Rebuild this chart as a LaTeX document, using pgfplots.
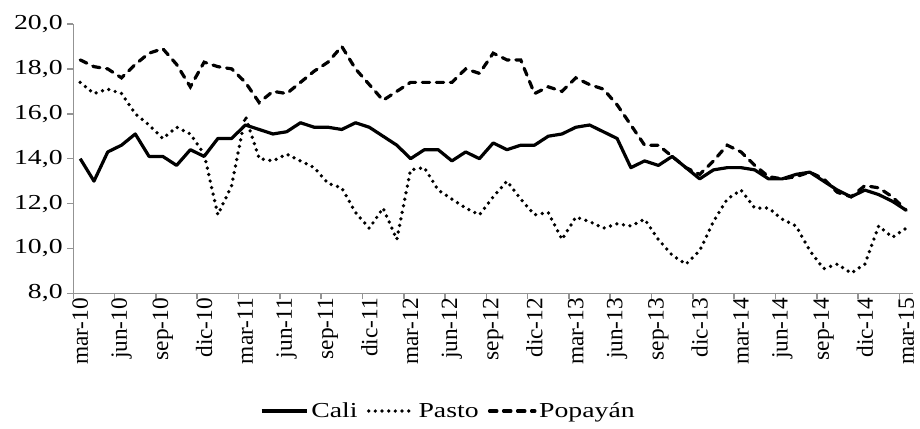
\documentclass[border=0pt]{standalone}
\usepackage{fontspec}
\setmainfont{Liberation Serif}[FakeStretch=1.3]
\newfontfamily\xlab{Liberation Serif}
\usepackage{pgfplots}
\pgfplotsset{compat=1.18}

\pgfplotstableread{
i cali pasto popayan
0 14.0 17.4 18.4
1 13.0 16.9 18.1
2 14.3 17.1 18.0
3 14.6 16.9 17.6
4 15.1 16.0 18.2
5 14.1 15.5 18.7
6 14.1 14.9 18.9
7 13.7 15.4 18.2
8 14.4 15.1 17.2
9 14.1 14.2 18.3
10 14.9 11.5 18.1
11 14.9 12.8 18.0
12 15.5 15.9 17.4
13 15.3 14.0 16.5
14 15.1 13.9 17.0
15 15.2 14.2 16.9
16 15.6 13.9 17.4
17 15.4 13.6 17.9
18 15.4 12.9 18.3
19 15.3 12.7 19.0
20 15.6 11.6 18.0
21 15.4 10.9 17.3
22 15.0 11.8 16.6
23 14.6 10.4 17.0
24 14.0 13.5 17.4
25 14.4 13.6 17.4
26 14.4 12.6 17.4
27 13.9 12.2 17.4
28 14.3 11.8 18.0
29 14.0 11.5 17.8
30 14.7 12.3 18.7
31 14.4 13.0 18.4
32 14.6 12.2 18.4
33 14.6 11.5 16.9
34 15.0 11.6 17.2
35 15.1 10.4 17.0
36 15.4 11.4 17.6
37 15.5 11.2 17.3
38 15.2 10.9 17.1
39 14.9 11.1 16.4
40 13.6 11.0 15.5
41 13.9 11.3 14.6
42 13.7 10.4 14.6
43 14.1 9.7 14.1
44 13.6 9.3 13.6
45 13.1 9.9 13.3
46 13.5 11.2 13.9
47 13.6 12.2 14.6
48 13.6 12.6 14.3
49 13.5 11.8 13.7
50 13.1 11.8 13.2
51 13.1 11.3 13.1
52 13.3 11.0 13.2
53 13.4 9.9 13.4
54 13.0 9.1 13.1
55 12.6 9.3 12.5
56 12.3 8.9 12.3
57 12.6 9.3 12.8
58 12.4 11.0 12.7
59 12.1 10.5 12.3
60 11.7 10.9 11.7
}\datatable

\begin{document}
\begin{tikzpicture}
\path[use as bounding box] (-55pt,-101pt) rectangle (635pt,220pt);
\begin{axis}[
  scale only axis,
  width=629.8pt, height=202pt,
  xmin=-0.5, xmax=60.5, ymin=8, ymax=20,
  axis x line*=bottom, axis y line*=left,
  axis line style={-, draw=gray!85, line width=1.2pt},
  tick align=outside,
  major tick length=4.5pt,
  tick style={draw=gray!85, line width=1.2pt},
  xtick={-0.5,2.5,...,59.5},
  xticklabels={},
  extra x ticks={0,3,...,60},
  extra x tick labels={mar-10,jun-10,sep-10,dic-10,mar-11,jun-11,sep-11,dic-11,mar-12,jun-12,sep-12,dic-12,mar-13,jun-13,sep-13,dic-13,mar-14,jun-14,sep-14,dic-14,mar-15},
  extra x tick style={major tick length=0pt},
  x tick label style={rotate=90, anchor=east, font=\xlab\fontsize{17.5}{20}\selectfont},
  ytick={8,10,...,20},
  scaled y ticks=false,
  y tick label style={font=\fontsize{16}{18}\selectfont,
    /pgf/number format/fixed, /pgf/number format/fixed zerofill,
    /pgf/number format/precision=1, /pgf/number format/use comma,
    /pgf/number format/assume math mode=true},
  legend columns=3,
  legend style={draw=none, at={(0.447,-0.437)}, anchor=center,
    font=\fontsize{16}{18}\selectfont,
    /tikz/every even column/.append style={column sep=5pt}},
  legend image code/.code={\draw[#1] (0pt,0pt) -- (34pt,0pt);},
  clip=false,
]
\addplot[black, line width=2.4pt, line join=round] table[x=i, y=cali] {\datatable};
\addlegendentry{Cali}
\addplot[black, line width=2.8pt, line cap=round, dash pattern=on 0pt off 5pt] table[x=i, y=pasto] {\datatable};
\addlegendentry{Pasto}
\addplot[black, line width=2.4pt, line cap=round, dash pattern=on 5.5pt off 5pt] table[x=i, y=popayan] {\datatable};
\addlegendentry{Popayán}
\end{axis}
\end{tikzpicture}
\end{document}
